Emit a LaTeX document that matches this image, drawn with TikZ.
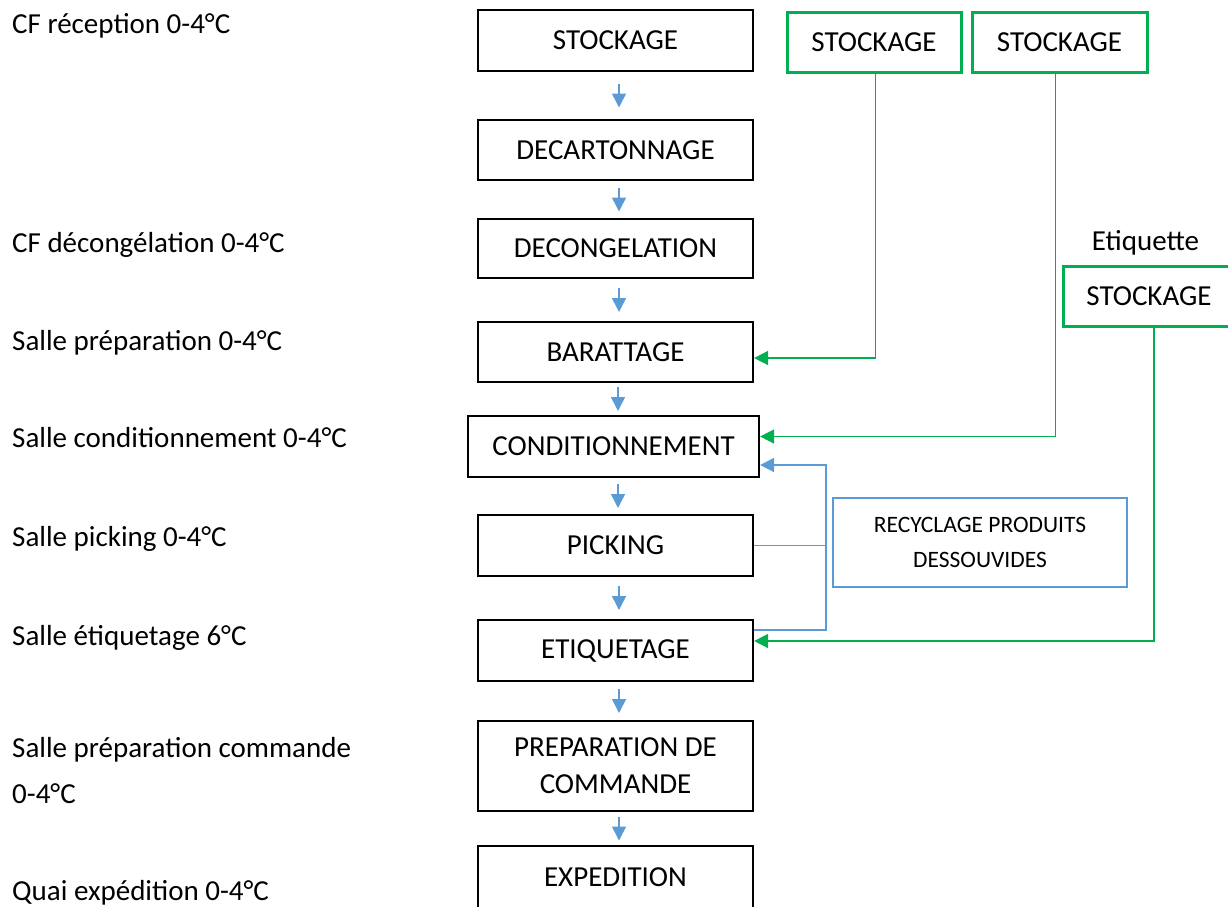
\documentclass[tikz,border=0pt]{standalone}
\usepackage{fontspec}
\setmainfont{Carlito}
\usetikzlibrary{arrows.meta,calc}
\definecolor{ogreen}{HTML}{00B050}
\definecolor{oblue}{HTML}{5B9BD5}
\begin{document}
\begin{tikzpicture}[x=1pt,y=-1pt,
  box/.style={draw=black,line width=2.2pt,inner sep=0pt,align=center,font=\fontsize{29}{37}\selectfont,minimum width=275pt,minimum height=61pt},
  gbox/.style={draw=ogreen,line width=3pt,inner sep=0pt,align=center,font=\fontsize{29}{37}\selectfont,minimum width=174pt,minimum height=60pt},
  rbox/.style={draw=oblue,line width=2.5pt,inner sep=0pt,align=center,font=\fontsize{23.5}{35}\selectfont,minimum width=294pt,minimum height=89pt},
  lab/.style={anchor=base west,inner sep=0pt,font=\fontsize{29}{37}\selectfont},
  flow/.style={draw=oblue,line width=1.5pt,-{Triangle[width=14pt,length=14pt]}},
  gline/.style={draw=ogreen,line width=1.6pt,-{Triangle[width=14pt,length=14pt]}},
  bline/.style={draw=oblue,line width=1.6pt},
  barrow/.style={draw=oblue,line width=1.6pt,-{Triangle[width=14pt,length=14pt]}}]
\useasboundingbox (0,0) rectangle (1228,906);
\clip (0,0) rectangle (1228,906);
% left labels
\node[lab] (l1) at (12,33) {CF réception 0-4°C};
\node[lab] (l2) at (12,252) {CF décongélation 0-4°C};
\node[lab] (l3) at (12,350) {Salle préparation 0-4°C};
\node[lab] (l4) at (12,447) {Salle conditionnement 0-4°C};
\node[lab] (l5) at (12,546) {Salle picking 0-4°C};
\node[lab] (l6) at (12,645) {Salle étiquetage 6°C};
\node[lab] (l7) at (12,757) {Salle préparation commande};
\node[lab] (l7b) at (12,803) {0-4°C};
\node[lab] (l8) at (12,900) {Quai expédition 0-4°C};
% main column
\node[box] (s1) at (615.5,40.5) {STOCKAGE};
\node[box,minimum height=60pt] (s2) at (615.5,150) {DECARTONNAGE};
\node[box,minimum height=59pt] (s3) at (615.5,248.5) {DECONGELATION};
\node[box,minimum height=60pt] (s4) at (615.5,352) {BARATTAGE};
\node[box,minimum width=291pt] (s5) at (613.5,446.5) {CONDITIONNEMENT};
\node[box] (s6) at (615.5,545.5) {PICKING};
\node[box] (s7) at (615.5,650.5) {ETIQUETAGE};
\node[box,minimum height=90pt] (s8) at (615.5,766) {PREPARATION DE\\COMMANDE};
\node[box,minimum height=62pt] (s9) at (615.5,877) {EXPEDITION};
% flow arrows
\foreach \a/\b in {s1/s2,s2/s3,s3/s4,s4/s5,s5/s6,s6/s7,s7/s8,s8/s9}{
  \draw[flow] ($(\a.south)!0.5!(\b.north)+(3.5,-12)$) -- ($(\a.south)!0.5!(\b.north)+(3.5,12)$);
}
% green storage boxes
\node[gbox] (g1) at (874,42) {STOCKAGE};
\node[gbox,minimum width=175pt] (g2) at (1059.5,42) {STOCKAGE};
\node[gbox,minimum width=172pt] (g3) at (1149,296) {STOCKAGE};
\node[anchor=base,inner sep=0pt,font=\fontsize{29}{37}\selectfont] (et) at (1145.5,250) {Etiquette};
% recycling box
\node[rbox] (rc) at (980,542.5) {RECYCLAGE PRODUITS\\DESSOUVIDES};
% green connectors
\draw[gline] ([xshift=1.5pt]g1.south) |- ([yshift=-6pt]s4.east);
\draw[gline] ([xshift=-4pt]g2.south) |- ([yshift=10pt]s5.east);
\draw[gline] ([xshift=5pt]g3.south) |- ([yshift=9.5pt]s7.east);
% blue recycling connectors
\coordinate (rx) at (826,545.5);
\draw[bline] (s6.east) -- (rx);
\draw[barrow] ([yshift=20.5pt]s7.east) -| (rx) |- ([yshift=-18.5pt]s5.east);
\end{tikzpicture}
\end{document}
